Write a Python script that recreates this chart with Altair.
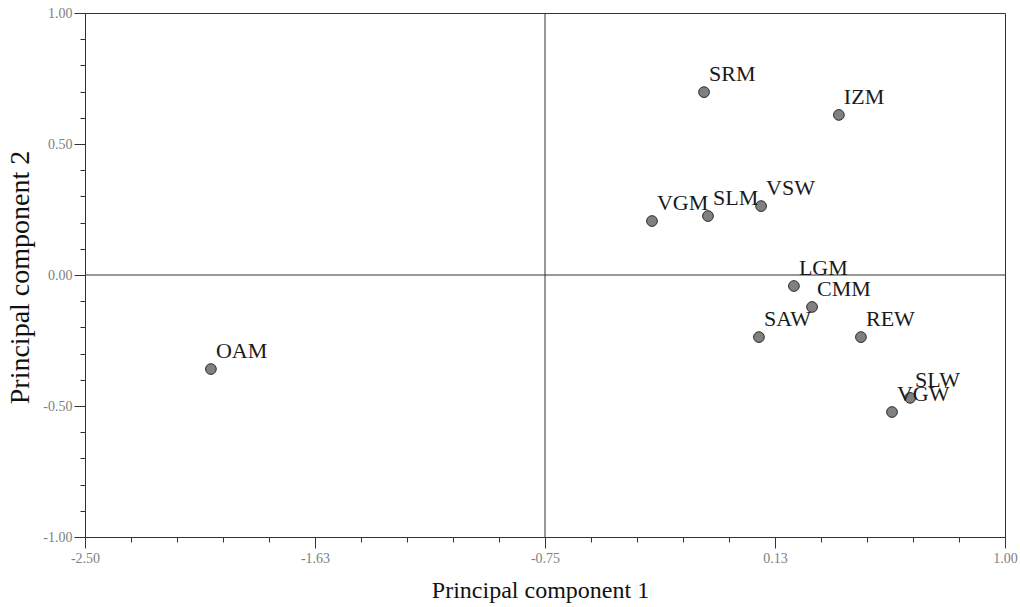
import altair as alt
import pandas as pd

# Sample labels and their principal component scores
names = ["SRM", "IZM", "VGM", "SLM", "VSW", "LGM", "CMM", "SAW", "REW", "SLW", "VGW", "OAM"]
pc1 = [-0.145, 0.368, -0.343, -0.130, 0.072, 0.197, 0.266, 0.064, 0.452, 0.639, 0.570, -2.021]
pc2 = [0.698, 0.611, 0.206, 0.225, 0.263, -0.042, -0.122, -0.237, -0.237, -0.469, -0.523, -0.359]

# Axis ticks and labels
x_ticks = [-2.5, -2.325, -2.15, -1.975, -1.8, -1.625, -1.45, -1.275, -1.1, -0.925, -0.75,
           -0.575, -0.4, -0.225, -0.05, 0.125, 0.3, 0.475, 0.65, 0.825, 1.0]
x_major = [-2.5, -1.625, -0.75, 0.125, 1.0]
x_labels = ["-2.50", "-1.63", "-0.75", "0.13", "1.00"]
y_ticks = [-1.0, -0.9, -0.8, -0.7, -0.6, -0.5, -0.4, -0.3, -0.2, -0.1, 0.0,
           0.1, 0.2, 0.3, 0.4, 0.5, 0.6, 0.7, 0.8, 0.9, 1.0]
y_major = [-1.0, -0.5, 0.0, 0.5, 1.0]
y_labels = ["-1.00", "-0.50", "0.00", "0.50", "1.00"]

# Crosshair positions
x_cross = [-0.75]
y_cross = [0.0]

df = pd.DataFrame({"name": names, "pc1": pc1, "pc2": pc2})


def label_expr(values, labels):
    expr = "''"
    for v, l in reversed(list(zip(values, labels))):
        expr = f"abs(datum.value - ({v})) < 0.001 ? '{l}' : ({expr})"
    return expr


def major_test(values):
    return " || ".join(f"abs(datum.value - ({v})) < 0.001" for v in values)


FONT = "Liberation Serif"
LINE = "#333333"

x_scale = alt.Scale(domain=[-2.5, 1.0], nice=False, zero=False)
y_scale = alt.Scale(domain=[-1.0, 1.0], nice=False, zero=False)

x_axis = alt.Axis(
    values=x_ticks,
    labelExpr=label_expr(x_major, x_labels),
    tickSize={"condition": {"test": major_test(x_major), "value": 11}, "value": 5},
    labelFlush=False,
    labelOverlap=False,
    labelPadding=3,
    title="Principal component 1",
    titleFontSize=24,
    titleX=455,
    titleY=60,
    titleAlign="center",
    titleBaseline="alphabetic",
)
y_axis = alt.Axis(
    values=y_ticks,
    labelExpr=label_expr(y_major, y_labels),
    tickSize={"condition": {"test": major_test(y_major), "value": 11}, "value": 5},
    labelFlush=False,
    labelOverlap=False,
    labelPadding=2,
    title="Principal component 2",
    titleFontSize=28,
    titleX=-65,
    titleY=264,
    titleAlign="center",
    titleBaseline="middle",
    titleAngle=-90,
)

points = alt.Chart(df).mark_point(
    filled=True, shape="circle", size=115, fill="#808080", stroke="#2a2a2a",
    strokeWidth=1, opacity=1
).encode(
    x=alt.X("pc1:Q", scale=x_scale, axis=x_axis),
    y=alt.Y("pc2:Q", scale=y_scale, axis=y_axis),
)

texts = alt.Chart(df).mark_text(
    align="left", baseline="alphabetic", dx=5, dy=-11,
    font=FONT, fontSize=22, color="#1a1a1a"
).encode(
    x=alt.X("pc1:Q", scale=x_scale, axis=x_axis),
    y=alt.Y("pc2:Q", scale=y_scale, axis=y_axis),
    text="name:N",
)

vline = alt.Chart(pd.DataFrame({"pc1": x_cross})).mark_rule(
    color=LINE, strokeWidth=1
).encode(x=alt.X("pc1:Q", scale=x_scale, axis=x_axis))

hline = alt.Chart(pd.DataFrame({"pc2": y_cross})).mark_rule(
    color=LINE, strokeWidth=1
).encode(y=alt.Y("pc2:Q", scale=y_scale, axis=y_axis))

chart = alt.layer(points, vline, hline, texts).properties(
    width=920,
    height=524,
    padding={"left": 85, "top": 13, "right": 15, "bottom": 70},
    autosize=alt.AutoSizeParams(type="none"),
    background="white",
).configure_view(
    stroke=LINE, strokeWidth=1
).configure_axis(
    grid=False,
    domainColor=LINE,
    domainWidth=1,
    tickColor=LINE,
    tickWidth=1,
    labelFont=FONT,
    labelFontSize=14,
    labelColor="#808080",
    titleFont=FONT,
    titleColor="#111111",
    titleFontWeight="normal",
)

chart.save("out.html", embed_options={"renderer": "svg", "actions": False})
